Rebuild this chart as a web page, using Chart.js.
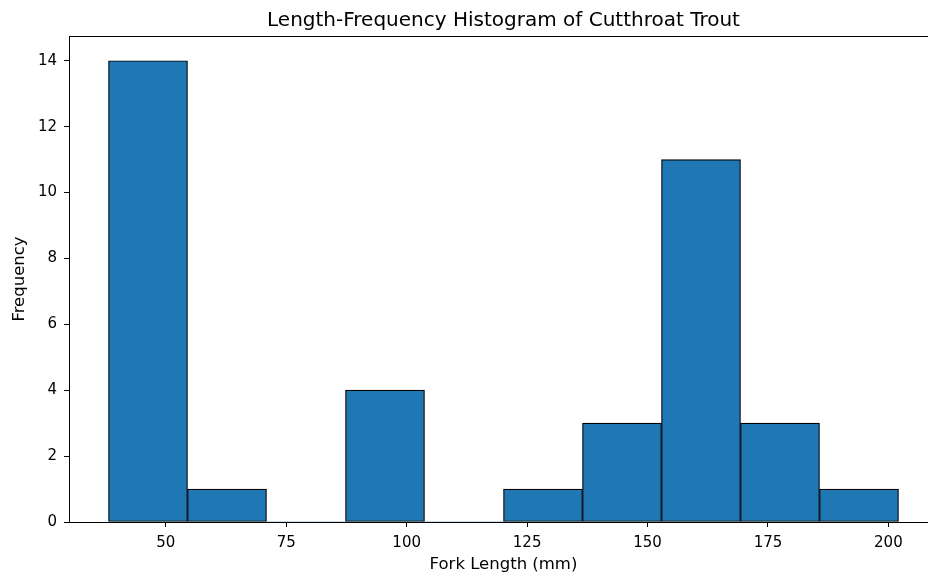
<!DOCTYPE html>
<html>
<head>
<meta charset="utf-8">
<title>Length-Frequency Histogram of Cutthroat Trout</title>
<script src="https://cdn.jsdelivr.net/npm/chart.js@4.4.1/dist/chart.umd.min.js"></script>
<style>
    html, body { margin: 0; padding: 0; background: #fff; overflow: hidden; }
    #wrap { width: 928px; height: 575px; overflow: hidden; }
</style>
</head>
<body>
<div id="wrap">
    <canvas id="histChart" width="1007" height="575"></canvas>
</div>
<script>
// Bin edges (mm) and counts
const binEdges = [38.1, 54.5, 70.9, 87.3, 103.7, 120.1, 136.5, 152.9, 169.3, 185.7, 202.1];
const binCounts = [14, 1, 0, 4, 0, 1, 3, 11, 3, 1];

// Tick labels
const xTicks = [50, 75, 100, 125, 150, 175, 200];
const yTicks = [0, 2, 4, 6, 8, 10, 12, 14];

// Axis limits (matplotlib 5% margins)
const xMin = 29.9;
const xMax = 210.3;
const yMax = 14.75;

const FONT = "'DejaVu Sans', sans-serif";

// One point per bin, placed at the bin centre
const histData = binCounts.map((count, i) => ({
    x: (binEdges[i] + binEdges[i + 1]) / 2,
    y: count
}));

// Draw the axes frame (matplotlib style box)
const framePlugin = {
    id: 'frame',
    afterDraw(chart) {
        const { ctx, chartArea } = chart;
        ctx.save();
        ctx.strokeStyle = '#000';
        ctx.lineWidth = 1;
        ctx.strokeRect(Math.round(chartArea.left) + 0.5, Math.round(chartArea.top) + 0.5,
            Math.round(chartArea.right - chartArea.left), Math.round(chartArea.bottom - chartArea.top));
        ctx.restore();
    }
};

function createHistogram() {
    const ctx = document.getElementById('histChart').getContext('2d');

    new Chart(ctx, {
        type: 'bar',
        data: {
            datasets: [{
                label: 'Frequency',
                data: histData,
                backgroundColor: '#1f77b4',
                borderColor: '#000',
                borderWidth: c => (c.raw && c.raw.y === 0 ? 0 : 1.2),
                borderSkipped: false,
                barPercentage: 1,
                categoryPercentage: 1
            }]
        },
        options: {
            responsive: false,
            animation: false,
            devicePixelRatio: 1,
            layout: { padding: { left: 0, right: 69, top: 0, bottom: 0 } },
            plugins: {
                legend: { display: false },
                tooltip: { enabled: false },
                title: {
                    display: true,
                    fullSize: false,
                    text: 'Length-Frequency Histogram of Cutthroat Trout',
                    color: '#000',
                    font: { family: FONT, size: 20, weight: 'normal' },
                    padding: { top: 8.6, bottom: 3.4 }
                }
            },
            scales: {
                x: {
                    type: 'linear',
                    min: xMin,
                    max: xMax,
                    offset: false,
                    afterBuildTicks: scale => {
                        scale.ticks = xTicks.map(v => ({ value: v }));
                    },
                    afterFit: scale => { scale.height = 53; },
                    ticks: {
                        color: '#000',
                        font: { family: FONT, size: 15 },
                        padding: 7,
                        maxRotation: 0,
                        autoSkip: false
                    },
                    grid: {
                        display: true,
                        offset: false,
                        drawOnChartArea: false,
                        drawTicks: true,
                        tickLength: 5,
                        color: '#000'
                    },
                    border: { display: true, color: '#000' },
                    title: {
                        display: true,
                        text: 'Fork Length (mm)',
                        color: '#000',
                        font: { family: FONT, size: 16.5 },
                        padding: { top: 0, bottom: 0 }
                    }
                },
                y: {
                    min: 0,
                    max: yMax,
                    afterBuildTicks: scale => {
                        scale.ticks = yTicks.map(v => ({ value: v }));
                    },
                    afterFit: scale => { scale.width = 69; },
                    ticks: {
                        color: '#000',
                        font: { family: FONT, size: 15 },
                        padding: 7,
                        autoSkip: false
                    },
                    grid: {
                        display: true,
                        drawOnChartArea: false,
                        drawTicks: true,
                        tickLength: 5,
                        color: '#000'
                    },
                    border: { display: true, color: '#000' },
                    title: {
                        display: true,
                        text: 'Frequency',
                        color: '#000',
                        font: { family: FONT, size: 16.5 },
                        padding: { top: 10, bottom: 0 }
                    }
                }
            }
        },
        plugins: [framePlugin]
    });
}

document.addEventListener('DOMContentLoaded', createHistogram);
</script>
</body>
</html>
